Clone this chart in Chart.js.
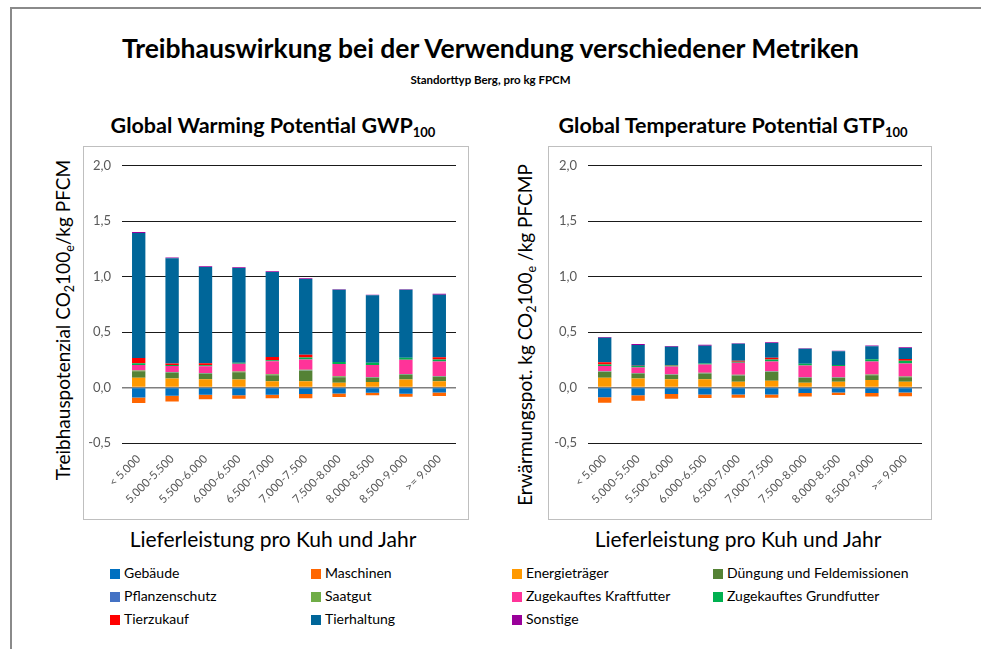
<!DOCTYPE html>
<html>
<head>
<meta charset="utf-8">
<script src="https://cdn.jsdelivr.net/npm/chart.js@4.4.1/dist/chart.umd.min.js"></script>
<style>
  body { margin: 0; width: 981px; height: 649px; background: #fff; position: relative; overflow: hidden; font-family: Lato, sans-serif; color: #000; }
  .abs { position: absolute; }
  #outer { left: 10px; top: 7px; width: 1000px; height: 700px; border-left: 2px solid #8a8a8a; border-top: 2px solid #8a8a8a; }
  .panel { border: 1px solid #bfbfbf; }
  .panel canvas { position: absolute; left: 0; top: 0; }
  #title { left: 0; width: 981px; top: 32px; text-align: center; font-size: 26.5px; font-weight: bold; }
  #subtitle { left: 0; width: 981px; top: 73px; text-align: center; font-size: 11.5px; font-weight: bold; }
  .ptitle { top: 112px; font-size: 21.5px; font-weight: bold; white-space: nowrap; transform: translateX(-50%); }
  .ptitle sub { font-size: 13px; vertical-align: -4px; }
  .ytitle { font-size: 19px; white-space: nowrap; transform: translate(-50%, -50%) rotate(-90deg); }
  .ytitle sub { font-size: 12.5px; vertical-align: -4px; }
  .xtitle { top: 526px; font-size: 21px; white-space: nowrap; transform: translateX(-50%); }
  #legend { left: 110px; top: 564px; display: grid; grid-template-columns: 201px 201px 201px 201px; grid-auto-rows: 23px; font-size: 14px; }
  #legend span.box { display: inline-block; width: 10px; height: 10px; margin-right: 4px; vertical-align: -1px; }
</style>
</head>
<body>
<div id="outer" class="abs"></div>
<div id="title" class="abs">Treibhauswirkung bei der Verwendung verschiedener Metriken</div>
<div id="subtitle" class="abs">Standorttyp Berg, pro kg FPCM</div>

<div class="abs ptitle" style="left:273px">Global Warming Potential GWP<sub>100</sub></div>
<div class="abs ptitle" style="left:733px">Global Temperature Potential GTP<sub>100</sub></div>

<div class="abs ytitle" style="left:64px; top:320px">Treibhauspotenzial CO<sub>2</sub>100<sub>e</sub>/kg PFCM</div>
<div class="abs ytitle" style="left:526px; top:335px">Erwärmungspot. kg CO<sub>2</sub>100<sub>e</sub> /kg PFCMP</div>

<div class="abs xtitle" style="left:273px">Lieferleistung pro Kuh und Jahr</div>
<div class="abs xtitle" style="left:738px">Lieferleistung pro Kuh und Jahr</div>

<div class="abs panel" style="left:83px; top:146px; width:384px; height:372px;"><canvas id="gwp" width="384" height="372"></canvas></div>
<div class="abs panel" style="left:548px; top:146px; width:382px; height:372px;"><canvas id="gtp" width="382" height="372"></canvas></div>

<div id="legend" class="abs"></div>

<script>
const categories = ['< 5.000', '5.000-5.500', '5.500-6.000', '6.000-6.500', '6.500-7.000',
                    '7.000-7.500', '7.500-8.000', '8.000-8.500', '8.500-9.000', '>= 9.000'];
const yTicks = [-0.5, 0, 0.5, 1.0, 1.5, 2.0];

const seriesNames = ['Gebäude', 'Maschinen', 'Energieträger', 'Düngung und Feldemissionen',
                     'Pflanzenschutz', 'Saatgut', 'Zugekauftes Kraftfutter', 'Zugekauftes Grundfutter',
                     'Tierzukauf', 'Tierhaltung', 'Sonstige'];
const seriesColors = ['#0070c0', '#ff6600', '#ff9900', '#548235',
                      '#4472c4', '#70ad47', '#ff3399', '#00b050',
                      '#ff0000', '#006699', '#990099'];

// GWP100
const gwpGebaeude       = [-0.090, -0.073, -0.064, -0.070, -0.064, -0.058, -0.053, -0.047, -0.056, -0.044];
const gwpMaschinen      = [-0.050, -0.053, -0.041, -0.030, -0.032, -0.038, -0.032, -0.023, -0.026, -0.032];
const gwpEnergie        = [0.088, 0.082, 0.076, 0.073, 0.056, 0.058, 0.044, 0.050, 0.073, 0.056];
const gwpDuengung       = [0.058, 0.050, 0.047, 0.064, 0.056, 0.094, 0.050, 0.038, 0.041, 0.041];
const gwpPflanzenschutz = [0.002, 0.002, 0.002, 0.002, 0.002, 0.002, 0.002, 0.002, 0.002, 0.002];
const gwpSaatgut        = [0.006, 0.006, 0.006, 0.006, 0.006, 0.006, 0.006, 0.006, 0.006, 0.006];
const gwpKraftfutter    = [0.050, 0.055, 0.061, 0.070, 0.117, 0.094, 0.111, 0.108, 0.129, 0.129];
const gwpGrundfutter    = [0.015, 0.009, 0.009, 0.009, 0.009, 0.018, 0.018, 0.020, 0.018, 0.020];
const gwpTierzukauf     = [0.047, 0.012, 0.018, 0.000, 0.029, 0.023, 0.000, 0.000, 0.000, 0.020];
const gwpTierhaltung    = [1.129, 0.950, 0.868, 0.854, 0.768, 0.684, 0.651, 0.608, 0.613, 0.564];
const gwpSonstige       = [0.008, 0.008, 0.007, 0.008, 0.006, 0.007, 0.005, 0.005, 0.005, 0.007];

// GTP100
const gtpGebaeude       = [-0.088, -0.070, -0.059, -0.062, -0.062, -0.062, -0.050, -0.044, -0.050, -0.044];
const gtpMaschinen      = [-0.050, -0.050, -0.041, -0.032, -0.030, -0.030, -0.030, -0.024, -0.030, -0.035];
const gtpEnergie        = [0.088, 0.082, 0.074, 0.074, 0.053, 0.062, 0.044, 0.053, 0.068, 0.053];
const gtpDuengung       = [0.053, 0.044, 0.041, 0.053, 0.056, 0.079, 0.044, 0.035, 0.044, 0.041];
const gtpPflanzenschutz = [0.002, 0.002, 0.002, 0.002, 0.002, 0.002, 0.002, 0.002, 0.002, 0.002];
const gtpSaatgut        = [0.004, 0.004, 0.004, 0.004, 0.004, 0.004, 0.004, 0.004, 0.004, 0.004];
const gtpKraftfutter    = [0.047, 0.050, 0.068, 0.074, 0.109, 0.088, 0.106, 0.100, 0.118, 0.118];
const gtpGrundfutter    = [0.015, 0.012, 0.009, 0.009, 0.009, 0.018, 0.015, 0.009, 0.020, 0.024];
const gtpTierzukauf     = [0.020, 0.003, 0.006, 0.000, 0.009, 0.015, 0.000, 0.000, 0.000, 0.015];
const gtpTierhaltung    = [0.220, 0.187, 0.163, 0.162, 0.154, 0.134, 0.134, 0.125, 0.116, 0.100];
const gtpSonstige       = [0.006, 0.008, 0.008, 0.008, 0.004, 0.006, 0.005, 0.004, 0.008, 0.006];

const gwpSeries = [gwpGebaeude, gwpMaschinen, gwpEnergie, gwpDuengung, gwpPflanzenschutz, gwpSaatgut,
                   gwpKraftfutter, gwpGrundfutter, gwpTierzukauf, gwpTierhaltung, gwpSonstige];
const gtpSeries = [gtpGebaeude, gtpMaschinen, gtpEnergie, gtpDuengung, gtpPflanzenschutz, gtpSaatgut,
                   gtpKraftfutter, gtpGrundfutter, gtpTierzukauf, gtpTierhaltung, gtpSonstige];

function makeChart(id, series, yWidth, padRight) {
    return new Chart(document.getElementById(id).getContext('2d'), {
        type: 'bar',
        data: {
            labels: categories,
            datasets: series.map((vals, i) => ({
                label: seriesNames[i],
                data: vals,
                backgroundColor: seriesColors[i],
                borderWidth: 0,
                categoryPercentage: 1.0,
                barPercentage: 0.4
            }))
        },
        options: {
            responsive: false,
            animation: false,
            // chart.js adds the half label height on top of this
            layout: { padding: { top: 1, right: padRight, left: 0, bottom: 0 } },
            plugins: { legend: { display: false }, tooltip: { enabled: false } },
            scales: {
                x: {
                    stacked: true,
                    grid: { display: false },
                    border: { display: false },
                    ticks: {
                        autoSkip: false, maxRotation: 45, minRotation: 45, padding: 1,
                        color: '#595959', font: { family: 'Lato', size: 11.5 }
                    },
                    afterFit: s => { s.height = 76; }
                },
                y: {
                    stacked: true,
                    min: -0.5, max: 2.0,
                    afterBuildTicks: s => { s.ticks = yTicks.map(v => ({ value: v })); },
                    border: { display: false },
                    grid: {
                        drawTicks: false,
                        color: c => c.tick && c.tick.value === 0 ? '#7f7f7f' : '#1a1a1a',
                        lineWidth: c => c.tick && c.tick.value === 0 ? 1.6 : 1
                    },
                    ticks: {
                        padding: 11, color: '#595959', font: { family: 'Lato', size: 13 },
                        callback: v => v.toFixed(1).replace('.', ',')
                    },
                    afterFit: s => { s.width = yWidth; }
                }
            }
        }
    });
}

makeChart('gwp', gwpSeries, 38, 12);
makeChart('gtp', gtpSeries, 39, 9);

const legend = document.getElementById('legend');
seriesNames.forEach((name, i) => {
    const item = document.createElement('div');
    item.innerHTML = '<span class="box" style="background:' + seriesColors[i] + '"></span>' + name;
    legend.appendChild(item);
});
</script>
</body>
</html>
